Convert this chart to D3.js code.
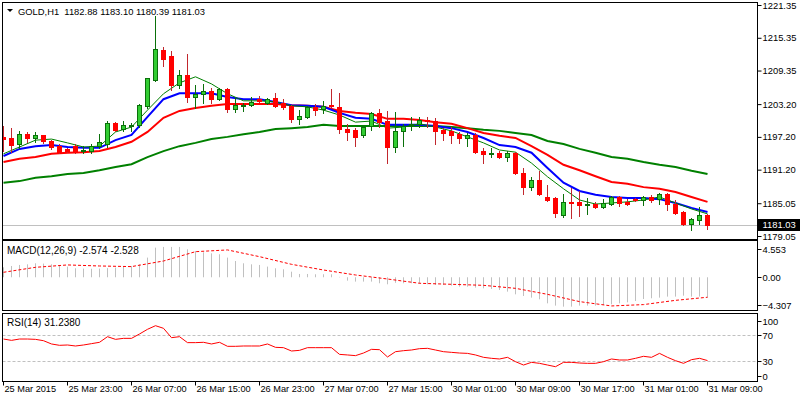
<!DOCTYPE html>
<html><head><meta charset="utf-8">
<script src="https://cdn.jsdelivr.net/npm/d3@7"></script>
<style>
html,body{margin:0;padding:0;background:#fff;}
svg{display:block;}
text{font-family:"Liberation Sans",Arial,sans-serif;font-size:10px;fill:#000;}
</style></head><body>
<svg id="c" width="800" height="400"></svg>
<script>
// ---------- DATA ----------
const timeLabels = ["25 Mar 2015","25 Mar 23:00","26 Mar 07:00","26 Mar 15:00","26 Mar 23:00","27 Mar 07:00","27 Mar 15:00","30 Mar 01:00","30 Mar 09:00","30 Mar 17:00","31 Mar 01:00","31 Mar 09:00"];
const labelBars = [0,8,16,24,32,40,48,56,64,72,80,88];

const opens = [1197.2,1197.0,1195.9,1197.7,1197.0,1197.5,1196.45,1195.5,1195.0,1195.5,
1194.7,1194.6,1195.5,1195.9,1199.75,1198.65,1199.2,1199.4,1202.86,1207.6,
1213.1,1212.0,1206.7,1208.5,1204.5,1205.05,1205.6,1204.1,1205.97,1202.3,
1202.9,1203.04,1204.1,1203.4,1204.3,1203.4,1202.86,1200.5,1200.8,1202.7,
1202.3,1203.0,1202.7,1198.65,1198.46,1197.55,1199.2,1201.6,1200.1,1195.35,
1198.3,1199.3,1199.6,1200.3,1200.1,1198.46,1198.3,1197.7,1197.0,1197.55,
1194.6,1194.2,1194.25,1193.5,1194.25,1190.6,1188.0,1189.3,1186.2,1186.0,
1182.9,1185.3,1185.3,1184.8,1184.9,1184.4,1184.9,1186.2,1185.3,1185.8,
1185.65,1186.2,1185.8,1186.75,1184.9,1183.45,1181.2,1181.9,1182.88];
const highs = [1199.2,1198.8,1198.3,1198.1,1198.1,1197.6,1196.6,1195.9,1195.2,1195.9,
1195.6,1195.9,1197.7,1200.1,1200.0,1200.1,1199.8,1203.2,1208.0,1219.3,
1213.7,1212.9,1209.45,1212.4,1206.7,1206.9,1206.15,1206.15,1206.15,1204.3,
1203.4,1204.5,1204.7,1204.3,1205.2,1204.1,1203.04,1202.1,1202.9,1203.2,
1203.8,1205.97,1205.2,1199.6,1198.8,1199.2,1201.8,1202.3,1201.9,1201.76,
1199.6,1200.8,1200.8,1200.8,1200.65,1198.8,1199.0,1198.1,1197.9,1197.9,
1195.2,1195.2,1194.6,1194.6,1194.4,1191.5,1189.9,1190.96,1188.4,1186.2,
1186.75,1187.85,1187.3,1186.0,1185.3,1185.8,1186.4,1186.3,1185.8,1186.0,
1186.4,1186.6,1186.9,1186.9,1185.65,1183.6,1182.35,1184.4,1183.10];
const lows = [1194.6,1194.4,1195.2,1196.3,1196.3,1196.1,1195.0,1194.25,1194.4,1194.2,
1194.2,1194.3,1195.2,1195.35,1198.3,1198.3,1198.3,1199.0,1202.5,1207.4,
1210.2,1205.8,1206.15,1203.6,1202.5,1203.4,1203.4,1203.96,1201.76,1201.76,
1201.9,1202.9,1203.6,1203.2,1202.7,1202.3,1199.9,1199.6,1200.6,1201.2,
1201.6,1202.7,1197.9,1196.6,1195.5,1197.2,1198.46,1199.0,1192.4,1194.4,
1195.5,1198.46,1199.0,1199.0,1195.9,1196.6,1196.1,1196.1,1195.5,1194.25,
1192.4,1193.5,1193.35,1192.8,1190.4,1186.75,1187.5,1186.6,1185.5,1182.5,
1182.5,1182.35,1182.7,1183.1,1184.2,1184.2,1184.7,1184.55,1184.7,1185.4,
1184.7,1185.3,1184.9,1183.8,1183.1,1181.0,1180.2,1181.2,1180.39];
const closes = [1196.8,1195.7,1197.7,1197.0,1197.5,1196.45,1195.35,1194.4,1194.6,1194.4,
1194.8,1195.5,1196.3,1199.75,1198.46,1199.4,1199.3,1203.04,1207.98,1213.3,
1211.5,1206.7,1208.5,1204.5,1205.05,1205.6,1204.1,1205.97,1202.3,1203.04,
1203.0,1203.6,1203.8,1204.1,1202.86,1202.7,1200.5,1201.0,1202.7,1202.1,
1202.86,1202.86,1198.65,1198.1,1197.2,1199.0,1201.6,1199.9,1195.35,1198.3,
1199.2,1199.5,1200.3,1200.2,1198.3,1197.9,1197.55,1197.0,1197.55,1194.4,
1194.07,1194.3,1193.5,1194.25,1190.6,1188.0,1189.3,1186.75,1185.65,1183.3,
1185.3,1185.2,1184.7,1184.9,1184.4,1185.1,1186.2,1185.1,1184.9,1185.65,
1186.2,1185.65,1186.75,1184.9,1183.3,1181.2,1182.2,1182.9,1181.03];

// moving averages, read every 2nd bar
const maStep = 2;
const maBlue = [1193.7,1195.0,1195.5,1195.7,1195.35,1195.2,1195.2,1196.6,1197.55,1200.85,1204.1,1205.2,1205.2,1205.2,1204.5,1204.1,1204.1,1203.6,1203.0,1202.9,1202.7,1201.6,1200.7,1200.5,1199.4,1199.4,1199.4,1199.2,1198.8,1198.1,1197.0,1195.7,1195.35,1194.3,1191.5,1188.8,1187.3,1186.6,1186.2,1186.0,1186.0,1185.8,1185.1,1184.2,1183.45];
const maRed = [1192.6,1193.2,1193.5,1194.1,1194.3,1194.4,1194.6,1195.35,1196.3,1198.1,1200.7,1201.95,1202.5,1202.9,1203.2,1203.2,1203.2,1203.2,1203.0,1202.9,1202.7,1201.95,1201.6,1201.4,1200.5,1200.5,1200.3,1199.9,1199.6,1198.8,1197.9,1197.4,1197.0,1195.5,1193.9,1192.1,1191.1,1190.0,1188.95,1188.6,1188.0,1187.7,1187.1,1186.2,1185.3];
const maSlow = [1188.8,1189.1,1189.7,1190.0,1190.4,1190.6,1191.1,1191.7,1192.2,1193.5,1194.6,1195.5,1196.1,1196.8,1197.2,1197.7,1198.1,1198.65,1198.8,1199.0,1199.4,1199.2,1199.2,1199.2,1199.2,1199.2,1199.2,1199.2,1199.0,1198.8,1198.5,1198.3,1197.9,1197.55,1196.45,1195.9,1195.0,1194.3,1193.5,1193.2,1192.6,1192.1,1191.7,1191.0,1190.4];
const maFast = [1194.1,1195.35,1196.6,1196.8,1196.1,1195.35,1195.5,1198.1,1199.0,1202.1,1205.1,1207.1,1208.2,1206.9,1205.1,1203.8,1203.8,1203.6,1202.9,1202.7,1202.1,1201.2,1199.9,1200.1,1198.8,1199.0,1199.6,1199.0,1198.3,1197.2,1196.1,1194.8,1194.4,1192.4,1189.9,1187.7,1185.65,1184.9,1185.1,1185.3,1185.65,1186.2,1185.1,1184.0,1183.1];

const macdHist = [1.26,1.43,1.56,1.64,1.77,1.73,1.64,1.47,1.35,1.14,
1.10,1.08,1.10,1.16,1.22,1.30,1.43,1.64,2.49,3.75,
3.84,3.84,3.84,3.54,3.33,3.16,3.03,2.91,2.49,2.06,
1.77,1.64,1.56,1.35,1.14,1.01,0.71,0.42,0.42,0.38,
0.38,0.38,0.05,-0.43,-0.55,-0.55,-0.55,-0.76,-0.89,-0.70,
-0.76,-0.76,-0.81,-0.89,-0.97,-0.97,-1.06,-1.19,-1.19,-1.31,
-1.40,-1.48,-1.61,-1.82,-2.16,-2.37,-2.58,-2.79,-3.30,-3.59,
-3.72,-3.72,-3.59,-3.59,-3.59,-3.51,-3.42,-3.30,-3.17,-3.00,
-2.75,-2.66,-2.58,-2.45,-2.45,-2.33,-2.45,-2.45,-2.574];
const signalStep = 4;
const macdSignal = [0.63,1.26,1.56,1.43,1.35,2.06,3.24,3.46,2.61,1.64,0.92,0.29,-0.22,-0.76,-0.89,-1.02,-1.40,-2.16,-3.08,-3.63,-3.46,-2.92,-2.528];

const rsi = [63.4,61.4,63.4,63.4,62.9,60.9,56.0,54.0,54.5,53.0,
54.5,56.5,58.5,66.9,62.9,64.4,64.4,70.9,77.9,83.3,
79.4,65.4,66.9,58.0,58.0,58.5,56.0,58.5,52.5,52.5,
53.0,53.0,53.0,56.0,51.0,50.5,45.5,46.5,50.5,50.5,
50.5,50.5,40.5,39.6,38.6,42.5,48.0,47.5,36.6,44.5,
46.0,47.0,49.0,49.5,47.0,44.5,43.5,42.5,42.0,39.6,
36.1,34.6,33.6,36.1,29.6,24.6,28.6,27.1,24.6,22.1,
28.6,28.6,27.6,27.1,27.1,29.6,33.6,32.1,32.1,34.6,
37.6,36.1,42.0,36.1,31.1,27.1,32.6,34.6,31.24];

const priceTicks = [1221.35,1215.35,1209.35,1203.20,1197.20,1191.20,1185.05,1179.05];
const macdTicks = [4.553,0,-4.307];
const rsiTicks = [100,70,30,0];
const rsiLevels = [70,30];
const lastPrice = 1181.03;
const title = "GOLD,H1  1182.88 1183.10 1180.39 1181.03";
const macdTitle = "MACD(12,26,9) -2.574 -2.528";
const rsiTitle = "RSI(14) 31.2380";

// ---------- LAYOUT ----------
const svg = d3.select("#c");
const XL = 2.5, XR = 757.5;
const panels = {main:[2.5,239.5], macd:[240.5,310.5], rsi:[313.5,381.5]};
const x = d3.scaleLinear().domain([0,88]).range([3,707]);
const yMain = d3.scaleLinear().domain([1179.05,1221.35]).range([236,5]);
const yMacd = d3.scaleLinear().domain([-4.307,4.553]).range([311.3,241.3]);
const yRsi = d3.scaleLinear().domain([0,100]).range([381.5,314.5]);
const NUMFONT = "9.4px";

const defs = svg.append("defs");
Object.entries(panels).forEach(([k,[t,b]])=>{
  defs.append("clipPath").attr("id","clip-"+k).append("rect")
    .attr("x",XL+0.5).attr("y",t+0.5).attr("width",XR-XL-1).attr("height",b-t-1);
});

// ---------- MAIN ----------
const gm = svg.append("g").attr("clip-path","url(#clip-main)");
gm.append("line").attr("x1",XL).attr("x2",XR)
  .attr("y1",Math.round(yMain(lastPrice))+0.5).attr("y2",Math.round(yMain(lastPrice))+0.5)
  .attr("stroke","#c0c0c0");

const maIdx = maBlue.map((d,k)=>k*maStep);
const maLine = d3.line().x((d,k)=>x(maIdx[k])+0.5).y(d=>yMain(d));
[[maSlow,"#008000",2],[maRed,"#ff0000",2],[maBlue,"#0000ff",2],[maFast,"#008000",1]].forEach(([arr,c,w])=>{
  gm.append("path").attr("d",maLine(arr)).attr("fill","none").attr("stroke",c).attr("stroke-width",w);
});

const bars = d3.range(opens.length);
const cg = gm.append("g");
bars.forEach(i=>{
  const up = closes[i] >= opens[i];
  const cx = Math.round(x(i));
  cg.append("line").attr("x1",cx+0.5).attr("x2",cx+0.5)
    .attr("y1",Math.round(yMain(highs[i]))).attr("y2",Math.round(yMain(lows[i]))+1)
    .attr("stroke", up ? "#0a700a" : "#c1272d");
  let yt = Math.round(yMain(Math.max(opens[i],closes[i])));
  let yb = Math.round(yMain(Math.min(opens[i],closes[i])));
  if (yb - yt < 1) yb = yt + 1;
  if (up) {
    cg.append("rect").attr("x",cx-1.5).attr("y",yt+0.5).attr("width",4).attr("height",Math.max(yb-yt,1))
      .attr("fill","#32cd32").attr("stroke","#0a700a").attr("stroke-width",1);
  } else {
    cg.append("rect").attr("x",cx-2).attr("y",yt).attr("width",5).attr("height",Math.max(yb-yt+1,1))
      .attr("fill","#ff0000");
  }
});

// ---------- MACD ----------
const gd = svg.append("g").attr("clip-path","url(#clip-macd)");
gd.selectAll("line.h").data(macdHist).enter().append("line")
  .attr("x1",(d,i)=>Math.round(x(i))+0.5).attr("x2",(d,i)=>Math.round(x(i))+0.5)
  .attr("y1",yMacd(0)).attr("y2",d=>yMacd(d))
  .attr("stroke","#c0c0c0");
const sigIdx = macdSignal.map((d,k)=>k*signalStep);
gd.append("path").attr("d",d3.line().x((d,k)=>x(sigIdx[k])+0.5).y(d=>yMacd(d))(macdSignal))
  .attr("fill","none").attr("stroke","#ff0000").attr("stroke-dasharray","3,2");

// ---------- RSI ----------
const gr = svg.append("g").attr("clip-path","url(#clip-rsi)");
rsiLevels.forEach(v=>{
  gr.append("line").attr("x1",XL).attr("x2",XR)
    .attr("y1",Math.round(yRsi(v))+0.5).attr("y2",Math.round(yRsi(v))+0.5)
    .attr("stroke","#c0c0c0").attr("stroke-dasharray","3,2");
});
gr.append("path").attr("d",d3.line().x((d,i)=>x(i)+0.5).y(d=>yRsi(d))(rsi))
  .attr("fill","none").attr("stroke","#ff0000").attr("stroke-width",1);

// ---------- FRAMES ----------
Object.values(panels).forEach(([t,b])=>{
  svg.append("rect").attr("x",XL).attr("y",t).attr("width",XR-XL).attr("height",b-t)
    .attr("fill","none").attr("stroke","#000");
});

// ---------- AXES ----------
const ax = svg.append("g").attr("transform",`translate(${XR},0)`)
  .call(d3.axisRight(yMain).tickValues(priceTicks).tickFormat(d3.format(".2f")).tickSize(4).tickPadding(1));
ax.select(".domain").remove();
ax.selectAll("text").attr("fill","#000").style("font-size",NUMFONT).style("font-family","'Liberation Sans',Arial,sans-serif");
ax.selectAll("line").attr("stroke","#000");

// price box
const ly = yMain(lastPrice);
svg.append("rect").attr("x",758).attr("y",Math.round(ly)-6).attr("width",42).attr("height",12).attr("fill","#000");
svg.append("text").attr("x",762.5).attr("y",ly).attr("dy","0.34em").style("fill","#fff").style("font-size",NUMFONT).text(lastPrice.toFixed(2));

function sideTicks(ticks, scale, t, b, fmt){
  ticks.forEach(v=>{
    const yy = Math.round(Math.min(Math.max(scale(v), t+8), b-6));
    svg.append("line").attr("x1",XR).attr("x2",XR+4).attr("y1",yy+0.5).attr("y2",yy+0.5).attr("stroke","#000");
    svg.append("text").attr("x",762.5).attr("y",yy+0.5).attr("dy","0.34em").style("font-size",NUMFONT).text(fmt(v));
  });
}
sideTicks(macdTicks, yMacd, panels.macd[0], panels.macd[1], v=> v===0 ? "0.00" : d3.format(".3f")(v));
sideTicks(rsiTicks, yRsi, panels.rsi[0]-1, panels.rsi[1], v=>String(v));

const tx = svg.append("g").attr("transform",`translate(0,${panels.rsi[1]})`)
  .call(d3.axisBottom(x).tickValues(labelBars).tickFormat((d,k)=>timeLabels[k]).tickSize(4));
tx.select(".domain").remove();
tx.selectAll("line").attr("stroke","#000");
tx.selectAll("text").attr("text-anchor","start").attr("x",1).attr("y",4).attr("fill","#000")
  .style("font-size","9.2px").style("font-family","'Liberation Sans',Arial,sans-serif");

// ---------- TITLES ----------
svg.append("path").attr("d","M7,9 L13,9 L10,12 Z").attr("fill","#000");
svg.append("text").attr("x",18).attr("y",14.5).style("font-size","9.4px").style("white-space","pre").text(title);
svg.append("text").attr("x",7).attr("y",253.5).text(macdTitle);
svg.append("text").attr("x",7).attr("y",326).text(rsiTitle);
</script>
</body></html>
